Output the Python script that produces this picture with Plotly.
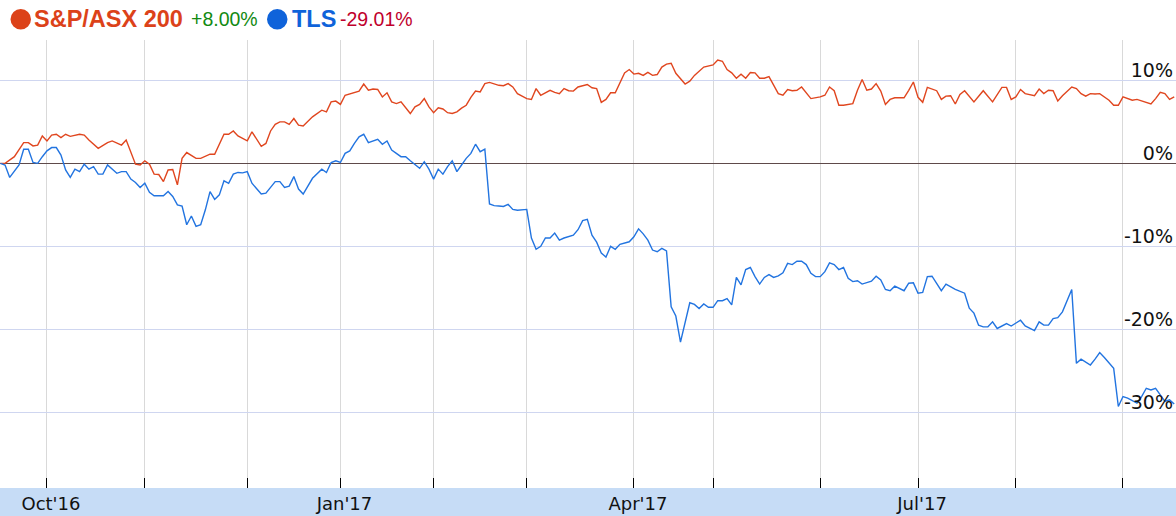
import plotly.graph_objects as go

# ---------------- data (x = trading-day index from 19 Sep 2016) ----------------
asx_day = [0, 1, 3, 5, 6, 7, 8, 9, 10, 11, 12, 13, 14, 15, 17, 18, 19, 21, 23, 24, 26, 27, 29, 30, 31, 32,
           33, 34, 35, 36, 37, 38, 39, 40, 42, 43, 45, 46, 48, 49, 50, 51, 53, 54, 56, 57, 58, 59, 60, 61,
           62, 63, 64, 65, 67, 69, 70, 71, 72, 73, 74, 75, 76, 77, 78, 79, 80, 81, 82, 83, 84, 85, 86, 88,
           89, 90, 91, 92, 93, 94, 95, 96, 97, 98, 99, 100, 101, 102, 103, 104, 105, 106, 107, 108, 109,
           110, 111, 112, 113, 114, 115, 116, 117, 118, 119, 120, 121, 122, 123, 124, 126, 127, 128, 129,
           130, 131, 132, 133, 134, 135, 136, 137, 138, 139, 140, 141, 142, 143, 144, 145, 147, 148, 149,
           151, 153, 154, 155, 156, 157, 158, 159, 160, 161, 162, 163, 164, 165, 167, 168, 169, 170, 171,
           172, 174, 175, 176, 177, 178, 179, 180, 181, 183, 184, 185, 186, 187, 188, 189, 190, 191, 192,
           194, 195, 196, 197, 198, 199, 201, 202, 203, 204, 205, 206, 207, 209, 211, 213, 215, 216, 217,
           218, 219, 220, 222, 223, 224, 225, 226, 227, 228, 230, 231, 232, 233, 234, 235, 236, 238, 239,
           240, 241, 242, 243, 244, 245, 247, 248, 249, 250, 251, 252]
asx_pct = [0.0, 0.0, 0.8, 2.5, 2.5, 2.1, 2.2, 3.3, 2.7, 3.4, 3.5, 3.1, 3.5, 3.25, 3.5, 3.4, 2.8, 1.8, 2.5,
           2.7, 2.2, 2.8, -0.1, -0.2, 0.3, -0.1, -1.3, -1.35, -2.2, -0.8, -0.75, -2.6, 0.6, 1.3, 0.6, 0.6,
           1.1, 1.1, 3.5, 3.5, 3.9, 3.3, 2.7, 3.8, 2.05, 2.4, 3.9, 4.7, 5.0, 5.0, 4.7, 5.4, 4.6, 4.5, 5.6,
           6.4, 6.2, 7.4, 7.5, 7.1, 8.2, 8.35, 8.55, 8.7, 9.55, 8.8, 8.95, 8.9, 8.0, 8.5, 7.4, 7.2, 7.4,
           6.0, 6.8, 7.1, 7.8, 6.8, 6.1, 6.7, 6.55, 6.1, 6.0, 6.2, 6.65, 7.0, 7.95, 8.7, 8.6, 9.6, 9.75,
           9.6, 9.4, 9.35, 9.6, 9.2, 8.4, 8.1, 7.8, 7.7, 9.0, 8.2, 8.5, 8.8, 8.55, 8.4, 9.0, 8.75, 8.7,
           9.2, 9.5, 9.1, 9.0, 7.35, 7.7, 8.5, 8.5, 9.8, 10.9, 11.3, 10.75, 10.85, 10.6, 10.95, 10.6,
           10.7, 11.6, 11.95, 12.05, 10.85, 9.55, 9.9, 10.6, 11.6, 11.85, 12.45, 12.3, 11.3, 10.9, 10.25,
           10.75, 10.25, 10.95, 10.9, 10.25, 10.25, 10.45, 8.4, 8.2, 8.9, 8.75, 8.8, 9.2, 7.8, 7.9, 8.0,
           8.2, 9.2, 8.75, 7.0, 7.0, 7.2, 8.8, 10.1, 8.8, 8.95, 9.6, 8.7, 7.1, 7.7, 7.9, 7.9, 8.8, 9.8,
           7.95, 7.35, 9.15, 8.75, 7.7, 8.1, 8.15, 7.15, 8.3, 8.75, 7.4, 8.75, 7.4, 9.15, 9.15, 7.7, 8.0,
           8.9, 8.4, 8.15, 8.95, 8.4, 8.8, 8.75, 7.5, 8.15, 9.2, 9.0, 8.4, 8.1, 8.4, 8.35, 8.4, 7.6, 7.0,
           7.0, 8.0, 7.8, 7.6, 7.7, 7.5, 7.15, 7.8, 8.55, 8.4, 7.7, 8.0]

tls_day = [0, 1, 2, 3, 4, 5, 6, 7, 8, 9, 10, 11, 12, 13, 14, 15, 16, 17, 18, 19, 20, 21, 22, 23, 25, 26,
           27, 28, 29, 30, 31, 32, 33, 35, 36, 37, 38, 39, 40, 41, 42, 43, 44, 45, 46, 47, 48, 49, 50, 51,
           52, 53, 54, 56, 57, 58, 59, 60, 61, 62, 63, 64, 65, 67, 68, 69, 70, 71, 72, 73, 74, 75, 76, 77,
           78, 79, 81, 82, 83, 84, 86, 87, 88, 90, 91, 92, 93, 94, 95, 96, 97, 98, 99, 100, 101, 102, 103,
           104, 105, 106, 107, 108, 109, 110, 111, 112, 113, 114, 115, 116, 117, 118, 119, 120, 121, 123,
           124, 125, 126, 127, 128, 129, 130, 131, 132, 133, 135, 136, 137, 138, 139, 140, 141, 142, 143,
           144, 145, 146, 147, 148, 149, 150, 151, 152, 153, 154, 155, 156, 157, 158, 159, 160, 161, 162,
           163, 164, 165, 166, 167, 168, 169, 170, 171, 172, 173, 174, 175, 176, 177, 178, 179, 180, 181,
           182, 183, 184, 185, 187, 188, 189, 190, 191, 192, 194, 195, 196, 197, 198, 199, 200, 202, 203,
           205, 207, 208, 209, 210, 211, 212, 213, 214, 216, 217, 219, 220, 222, 223, 224, 225, 226, 227,
           228, 230, 231, 232, 234, 235, 236, 237, 239, 240, 241, 242, 244, 245, 246, 247, 248, 249, 250,
           251, 252]
tls_pct = [0.0, -0.2, -1.7, -1.0, -0.2, 1.7, 1.7, 0.1, 0.0, 0.8, 1.5, 1.9, 1.9, 1.0, -0.8, -1.7, -0.7,
           -1.0, -0.1, -0.7, -0.4, -1.3, -1.3, -0.2, -1.2, -1.0, -1.0, -1.9, -2.3, -2.9, -2.4, -3.5, -3.9,
           -3.9, -3.4, -4.0, -5.0, -5.15, -7.4, -6.35, -7.6, -7.4, -5.6, -3.4, -4.35, -3.8, -2.1, -2.4,
           -1.3, -1.1, -1.15, -1.0, -2.4, -3.7, -3.6, -2.9, -2.2, -2.2, -2.9, -2.75, -1.6, -3.1, -3.7,
           -1.8, -1.3, -0.7, -1.1, 0.1, 0.3, 0.1, 1.2, 1.5, 2.4, 3.2, 3.5, 2.5, 2.9, 2.3, 2.7, 1.6, 0.8,
           0.8, 0.3, -0.6, 0.2, -0.7, -1.9, -0.7, -1.3, -0.4, 0.3, -1.0, -0.2, 0.6, 1.2, 2.3, 1.4, 1.7,
           -4.9, -5.1, -5.15, -5.2, -4.95, -5.55, -5.65, -5.6, -5.55, -9.0, -10.35, -10.0, -9.0, -9.0,
           -8.4, -9.25, -9.0, -8.65, -8.0, -6.9, -6.75, -8.65, -9.5, -10.8, -11.3, -10.0, -10.35, -9.75,
           -9.45, -8.85, -7.9, -8.5, -9.25, -10.45, -10.65, -10.25, -10.55, -17.3, -18.4, -21.55, -19.3,
           -16.8, -17.0, -17.5, -16.95, -17.35, -17.35, -16.55, -16.55, -16.3, -17.05, -13.75, -14.65,
           -12.8, -12.55, -13.65, -14.55, -13.75, -13.4, -13.75, -13.55, -13.2, -12.05, -12.2, -11.8,
           -11.8, -12.2, -13.25, -13.65, -13.65, -13.05, -12.0, -12.2, -12.8, -12.55, -13.85, -14.25,
           -14.15, -14.55, -14.2, -13.6, -14.05, -15.2, -15.35, -14.8, -15.35, -14.45, -14.4, -15.65,
           -15.55, -13.65, -13.6, -15.35, -14.55, -15.2, -15.65, -17.45, -18.05, -19.5, -19.7, -19.7,
           -19.1, -19.9, -19.3, -19.6, -18.9, -19.6, -20.15, -19.1, -19.5, -19.5, -18.7, -18.6, -17.9,
           -15.2, -24.1, -23.6, -24.3, -23.6, -22.8, -23.4, -24.7, -29.3, -28.1, -28.3, -28.9, -28.1,
           -27.1, -27.3, -27.1, -27.9, -28.7, -28.5, -29.0]

month_start_day = [10, 31, 53, 73, 93, 113, 136, 153, 176, 197, 218, 241]
month_labels = ["Oct'16", "", "", "Jan'17", "", "", "Apr'17", "", "", "Jul'17", "", ""]
y_ticks = [-30, -20, -10, 0, 10]
y_labels = ["-30%", "-20%", "-10%", "0%", "10%"]

series_names = ["S&P/ASX 200", "TLS"]
series_change = ["+8.00%", "-29.01%"]

# ---------------- styling ----------------
W, H = 1176, 516
TOP, BOT = 40, 488          # plot area in pixels
RED, BLUE = "#e0461f", "#2274e0"
RED_T, BLUE_T = "#dc4219", "#0f63da"


def px(x):
    return x / W


def py(y):
    return (BOT - y) / (BOT - TOP)


fig = go.Figure()
fig.add_trace(go.Scatter(x=asx_day, y=asx_pct, mode="lines", name=series_names[0],
                         line=dict(color=RED, width=1.4), hoverinfo="skip"))
fig.add_trace(go.Scatter(x=tls_day, y=tls_pct, mode="lines", name=series_names[1],
                         line=dict(color=BLUE, width=1.4), hoverinfo="skip"))

fig.update_layout(
    width=W, height=H,
    margin=dict(l=0, r=0, t=TOP, b=H - BOT, pad=0),
    paper_bgcolor="white", plot_bgcolor="white",
    showlegend=False,
    font=dict(family="DejaVu Sans", color="#111"),
)
fig.update_xaxes(
    range=[-0.086, 252.38], tickmode="array", tickvals=month_start_day, ticktext=month_labels,
    showgrid=True, gridcolor="#d9d9d9", gridwidth=1,
    ticks="inside", ticklen=10, tickcolor="#000", tickwidth=1,
    tickfont=dict(family="DejaVu Sans", size=18, color="#111"),
    ticklabelstandoff=3, ticklabelshift=4,
    zeroline=False, showline=False,
)
fig.update_yaxes(
    range=[-39.12, 14.86], side="right", tickmode="array", tickvals=y_ticks, ticktext=y_labels,
    ticklabelposition="inside top", ticks="", ticklabelshift=3,
    tickfont=dict(family="DejaVu Sans", size=19, color="#111"),
    showgrid=True, gridcolor="#cfd6f0", gridwidth=1,
    zeroline=True, zerolinecolor="#5e4a4a", zerolinewidth=1,
    showline=False,
)

# bottom date band
fig.add_shape(type="rect", xref="paper", yref="paper", x0=0, x1=1, y0=py(H), y1=py(BOT),
              fillcolor="#c6dcf6", line_width=0, layer="below")

# legend header
fig.add_shape(type="circle", xref="paper", yref="paper", x0=px(10.5), x1=px(31), y0=py(29.5), y1=py(9),
              fillcolor=RED_T, line_width=0)
fig.add_shape(type="circle", xref="paper", yref="paper", x0=px(267), x1=px(287.5), y0=py(29.5), y1=py(9),
              fillcolor=BLUE_T, line_width=0)
hdr = [
    (33, series_names[0], RED_T, 23.5, True),
    (190, series_change[0], "#128a12", 19.5, False),
    (291, series_names[1], BLUE_T, 23.5, True),
    (339, series_change[1], "#c0002c", 19.5, False),
]
for x0, txt, col, size, bold in hdr:
    fig.add_annotation(xref="paper", yref="paper", x=px(x0), y=py(19), xanchor="left", yanchor="middle",
                       text=(f"<b>{txt}</b>" if bold else txt), showarrow=False,
                       font=dict(family="Liberation Sans", size=size, color=col), borderpad=0)

fig.write_html("out.html", config={"displayModeBar": False},
               post_script="document.body.style.margin='0';document.body.style.overflow='hidden';")
